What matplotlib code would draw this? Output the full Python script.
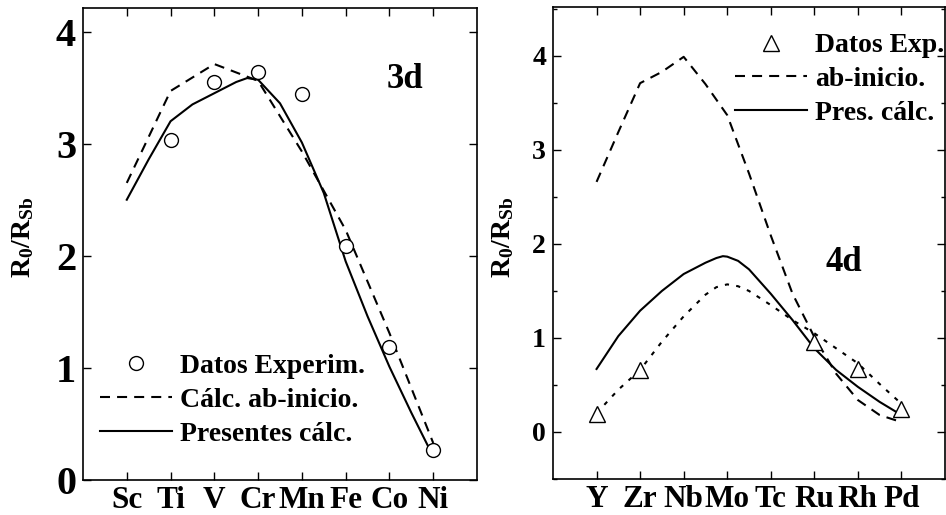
import matplotlib
matplotlib.use("Agg")
import matplotlib.pyplot as plt
from matplotlib.lines import Line2D

plt.rcParams['font.family'] = ['Liberation Serif', 'DejaVu Serif']
plt.rcParams['font.weight'] = 'bold'
plt.rcParams['mathtext.fontset'] = 'custom'
plt.rcParams['mathtext.rm'] = 'Liberation Serif:bold'
plt.rcParams['mathtext.it'] = 'Liberation Serif:bold'
plt.rcParams['mathtext.bf'] = 'Liberation Serif:bold'

# ---------------- data: 3d series ----------------
elements_3d = ['Sc', 'Ti', 'V', 'Cr', 'Mn', 'Fe', 'Co', 'Ni']
pos_3d = [1, 2, 3, 4, 5, 6, 7, 8]
exp_3d_x = [2, 3, 4, 5, 6, 7, 8]
exp_3d = [3.03, 3.55, 3.64, 3.44, 2.09, 1.19, 0.27]
abinit_3d = [2.65, 3.47, 3.71, 3.56, 2.93, 2.23, 1.31, 0.33]
pres_3d_x = [1, 1.5, 2, 2.5, 3, 3.5, 3.75, 4, 4.5, 5, 5.5, 6, 6.5, 7, 7.5, 8]
pres_3d = [2.50, 2.86, 3.20, 3.35, 3.45, 3.55, 3.585, 3.57, 3.36, 3.01, 2.56,
           1.95, 1.46, 1.01, 0.60, 0.21]

# ---------------- data: 4d series ----------------
elements_4d = ['Y', 'Zr', 'Nb', 'Mo', 'Tc', 'Ru', 'Rh', 'Pd']
pos_4d = [1, 2, 3, 4, 5, 6, 7, 8]
exp_4d_x = [1, 2, 6, 7, 8]
exp_4d = [0.195, 0.66, 0.96, 0.67, 0.24]
abinit_4d_x = [1, 1.5, 2, 2.5, 3, 3.5, 4, 4.5, 5, 5.5, 6, 6.5, 7, 7.5, 7.9]
abinit_4d = [2.66, 3.19, 3.71, 3.83, 3.99, 3.70, 3.37, 2.75, 2.09, 1.47,
             1.01, 0.62, 0.34, 0.18, 0.12]
pres_4d_x = [1, 1.5, 2, 2.5, 3, 3.5, 3.75, 3.9, 4, 4.25, 4.5, 5, 5.5, 6, 6.5,
             7, 7.5, 8]
pres_4d = [0.67, 1.02, 1.29, 1.50, 1.68, 1.80, 1.85, 1.87, 1.865, 1.82, 1.73,
           1.47, 1.19, 0.89, 0.66, 0.48, 0.32, 0.18]
dot_4d_x = [1, 1.5, 2, 2.5, 3, 3.5, 3.75, 4, 4.25, 4.5, 5, 5.5, 6, 6.5, 7,
            7.5, 8]
dot_4d = [0.20, 0.45, 0.66, 0.96, 1.23, 1.46, 1.54, 1.57, 1.55, 1.50, 1.35,
          1.19, 1.05, 0.89, 0.73, 0.51, 0.30]

legend_3d = ['Datos Experim.', 'Cálc. ab-inicio.', 'Presentes cálc.']
legend_4d = ['Datos Exp.', 'ab-inicio.', 'Pres. cálc.']

W, H = 946, 515
fig = plt.figure(figsize=(W / 100, H / 100), dpi=100)
ax1 = fig.add_axes([83 / W, 35 / H, 394 / W, 472 / H])
ax2 = fig.add_axes([553 / W, 36 / H, 392 / W, 472 / H])

LW = 1.5
DASH = (4.8, 3.4)
DOT = (2.0, 3.5)

for ax in (ax1, ax2):
    for s in ax.spines.values():
        s.set_linewidth(1.2)
    ax.tick_params(which='both', direction='in', top=True, right=True, width=1.0)
    ax.tick_params(which='major', length=6)
    ax.tick_params(which='minor', length=3)
    ax.set_xlim(0, 9)

# ---------- left panel ----------
ax1.plot(pos_3d, abinit_3d, color='black', lw=LW, dashes=DASH)
ax1.plot(pres_3d_x, pres_3d, color='black', lw=LW)
ax1.plot(exp_3d_x, exp_3d, linestyle='none', marker='o', ms=10,
         mfc='white', mec='black', mew=1.0)
ax1.set_ylim(0, 4.21)
ax1.set_yticks([0, 1, 2, 3, 4])
ax1.set_xticks(pos_3d)
ax1.set_xticklabels(elements_3d, fontsize=22.5)
ax1.tick_params(axis='x', pad=4.5)
ax1.tick_params(axis='y', labelsize=29, pad=5)
ax1.text(-0.152, 0.515, r'R$_0$/R$_{Sb}$', transform=ax1.transAxes,
         rotation=90, ha='center', va='center', fontsize=20)
ax1.text(7.36, 3.57, '3d', fontsize=25, ha='center', va='center')

h1 = [Line2D([], [], linestyle='none', marker='o', ms=10, mfc='white',
             mec='black', mew=1.0),
      Line2D([], [], color='black', lw=LW, dashes=DASH),
      Line2D([], [], color='black', lw=LW)]
ax1.legend(h1, legend_3d, loc='upper left', bbox_to_anchor=(0.043, 0.268),
           frameon=False, fontsize=20, handlelength=2.6, handletextpad=0.28,
           labelspacing=0.3, borderpad=0, borderaxespad=0, numpoints=1)

# ---------- right panel ----------
ax2.plot(abinit_4d_x, abinit_4d, color='black', lw=LW, dashes=DASH)
ax2.plot(dot_4d_x, dot_4d, color='black', lw=LW, dashes=DOT)
ax2.plot(pres_4d_x, pres_4d, color='black', lw=LW)
ax2.plot(exp_4d_x, exp_4d, linestyle='none', marker='^', ms=11,
         mfc='white', mec='black', mew=1.0)
ax2.set_ylim(-0.5, 4.52)
ax2.set_yticks([0, 1, 2, 3, 4])
ax2.set_yticks([-0.5, 0.5, 1.5, 2.5, 3.5, 4.5], minor=True)
ax2.set_xticks(pos_4d)
ax2.set_xticklabels(elements_4d, fontsize=22.5)
ax2.tick_params(axis='x', pad=4.5)
ax2.tick_params(axis='y', labelsize=20, pad=5)
ax2.text(-0.128, 0.512, r'R$_0$/R$_{Sb}$', transform=ax2.transAxes,
         rotation=90, ha='center', va='center', fontsize=20)
ax2.text(6.68, 1.80, '4d', fontsize=25, ha='center', va='center')

h2 = [Line2D([], [], linestyle='none', marker='^', ms=11, mfc='white',
             mec='black', mew=1.0),
      Line2D([], [], color='black', lw=LW, dashes=DASH),
      Line2D([], [], color='black', lw=LW)]
ax2.legend(h2, legend_4d, loc='upper left', bbox_to_anchor=(0.464, 0.945),
           frameon=False, fontsize=20, handlelength=2.6, handletextpad=0.28,
           labelspacing=0.3, borderpad=0, borderaxespad=0, numpoints=1)

fig.savefig('out.png', dpi=100)
